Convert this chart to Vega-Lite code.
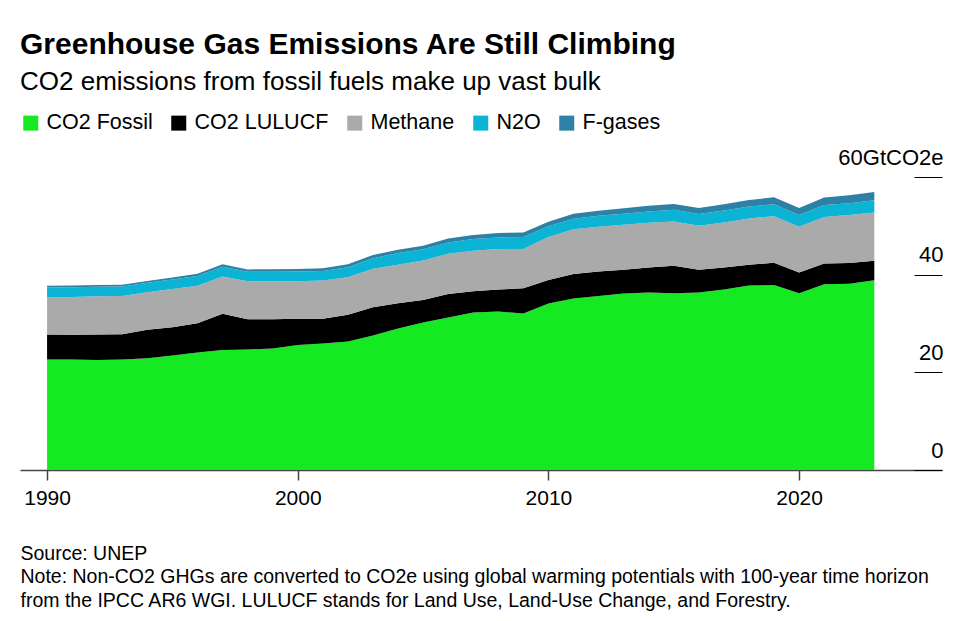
{
  "$schema": "https://vega.github.io/schema/vega-lite/v6.json",
  "autosize": "none",
  "width": 922,
  "height": 293,
  "padding": {"left": 20, "top": 177, "right": 17, "bottom": 151},
  "background": "white",
  "config": {
    "font": "Liberation Sans",
    "view": {"stroke": null}
  },
  "title": {
    "text": "Greenhouse Gas Emissions Are Still Climbing",
    "subtitle": "CO2 emissions from fossil fuels make up vast bulk",
    "anchor": "start",
    "frame": "group",
    "fontSize": 30,
    "fontWeight": "bold",
    "color": "#000000",
    "subtitleFontSize": 26,
    "subtitleColor": "#000000",
    "subtitlePadding": 9,
    "offset": 17
  },
  "data": {
    "values": [
      {"year": 1990, "gas": "CO2 Fossil", "value": 22.65}, {"year": 1990, "gas": "CO2 LULUCF", "value": 5.10}, {"year": 1990, "gas": "Methane", "value": 7.61}, {"year": 1990, "gas": "N2O", "value": 2.02}, {"year": 1990, "gas": "F-gases", "value": 0.35},
      {"year": 1991, "gas": "CO2 Fossil", "value": 22.65}, {"year": 1991, "gas": "CO2 LULUCF", "value": 5.04}, {"year": 1991, "gas": "Methane", "value": 7.76}, {"year": 1991, "gas": "N2O", "value": 1.98}, {"year": 1991, "gas": "F-gases", "value": 0.35},
      {"year": 1992, "gas": "CO2 Fossil", "value": 22.55}, {"year": 1992, "gas": "CO2 LULUCF", "value": 5.20}, {"year": 1992, "gas": "Methane", "value": 7.82}, {"year": 1992, "gas": "N2O", "value": 1.95}, {"year": 1992, "gas": "F-gases", "value": 0.35},
      {"year": 1993, "gas": "CO2 Fossil", "value": 22.65}, {"year": 1993, "gas": "CO2 LULUCF", "value": 5.16}, {"year": 1993, "gas": "Methane", "value": 7.84}, {"year": 1993, "gas": "N2O", "value": 1.93}, {"year": 1993, "gas": "F-gases", "value": 0.37},
      {"year": 1994, "gas": "CO2 Fossil", "value": 22.86}, {"year": 1994, "gas": "CO2 LULUCF", "value": 5.86}, {"year": 1994, "gas": "Methane", "value": 7.67}, {"year": 1994, "gas": "N2O", "value": 1.93}, {"year": 1994, "gas": "F-gases", "value": 0.39},
      {"year": 1995, "gas": "CO2 Fossil", "value": 23.47}, {"year": 1995, "gas": "CO2 LULUCF", "value": 5.78}, {"year": 1995, "gas": "Methane", "value": 7.84}, {"year": 1995, "gas": "N2O", "value": 1.93}, {"year": 1995, "gas": "F-gases", "value": 0.41},
      {"year": 1996, "gas": "CO2 Fossil", "value": 24.08}, {"year": 1996, "gas": "CO2 LULUCF", "value": 5.98}, {"year": 1996, "gas": "Methane", "value": 7.69}, {"year": 1996, "gas": "N2O", "value": 2.00}, {"year": 1996, "gas": "F-gases", "value": 0.45},
      {"year": 1997, "gas": "CO2 Fossil", "value": 24.59}, {"year": 1997, "gas": "CO2 LULUCF", "value": 7.39}, {"year": 1997, "gas": "Methane", "value": 7.67}, {"year": 1997, "gas": "N2O", "value": 1.98}, {"year": 1997, "gas": "F-gases", "value": 0.51},
      {"year": 1998, "gas": "CO2 Fossil", "value": 24.69}, {"year": 1998, "gas": "CO2 LULUCF", "value": 6.18}, {"year": 1998, "gas": "Methane", "value": 7.76}, {"year": 1998, "gas": "N2O", "value": 1.98}, {"year": 1998, "gas": "F-gases", "value": 0.47},
      {"year": 1999, "gas": "CO2 Fossil", "value": 24.90}, {"year": 1999, "gas": "CO2 LULUCF", "value": 5.98}, {"year": 1999, "gas": "Methane", "value": 7.76}, {"year": 1999, "gas": "N2O", "value": 1.98}, {"year": 1999, "gas": "F-gases", "value": 0.49},
      {"year": 2000, "gas": "CO2 Fossil", "value": 25.61}, {"year": 2000, "gas": "CO2 LULUCF", "value": 5.35}, {"year": 2000, "gas": "Methane", "value": 7.67}, {"year": 2000, "gas": "N2O", "value": 2.02}, {"year": 2000, "gas": "F-gases", "value": 0.51},
      {"year": 2001, "gas": "CO2 Fossil", "value": 25.92}, {"year": 2001, "gas": "CO2 LULUCF", "value": 5.04}, {"year": 2001, "gas": "Methane", "value": 7.82}, {"year": 2001, "gas": "N2O", "value": 1.96}, {"year": 2001, "gas": "F-gases", "value": 0.55},
      {"year": 2002, "gas": "CO2 Fossil", "value": 26.33}, {"year": 2002, "gas": "CO2 LULUCF", "value": 5.45}, {"year": 2002, "gas": "Methane", "value": 7.67}, {"year": 2002, "gas": "N2O", "value": 2.06}, {"year": 2002, "gas": "F-gases", "value": 0.60},
      {"year": 2003, "gas": "CO2 Fossil", "value": 27.55}, {"year": 2003, "gas": "CO2 LULUCF", "value": 5.78}, {"year": 2003, "gas": "Methane", "value": 7.90}, {"year": 2003, "gas": "N2O", "value": 2.14}, {"year": 2003, "gas": "F-gases", "value": 0.65},
      {"year": 2004, "gas": "CO2 Fossil", "value": 28.98}, {"year": 2004, "gas": "CO2 LULUCF", "value": 5.16}, {"year": 2004, "gas": "Methane", "value": 7.90}, {"year": 2004, "gas": "N2O", "value": 2.40}, {"year": 2004, "gas": "F-gases", "value": 0.68},
      {"year": 2005, "gas": "CO2 Fossil", "value": 30.20}, {"year": 2005, "gas": "CO2 LULUCF", "value": 4.63}, {"year": 2005, "gas": "Methane", "value": 8.06}, {"year": 2005, "gas": "N2O", "value": 2.32}, {"year": 2005, "gas": "F-gases", "value": 0.72},
      {"year": 2006, "gas": "CO2 Fossil", "value": 31.22}, {"year": 2006, "gas": "CO2 LULUCF", "value": 4.84}, {"year": 2006, "gas": "Methane", "value": 8.22}, {"year": 2006, "gas": "N2O", "value": 2.31}, {"year": 2006, "gas": "F-gases", "value": 0.80},
      {"year": 2007, "gas": "CO2 Fossil", "value": 32.24}, {"year": 2007, "gas": "CO2 LULUCF", "value": 4.35}, {"year": 2007, "gas": "Methane", "value": 8.31}, {"year": 2007, "gas": "N2O", "value": 2.38}, {"year": 2007, "gas": "F-gases", "value": 0.84},
      {"year": 2008, "gas": "CO2 Fossil", "value": 32.45}, {"year": 2008, "gas": "CO2 LULUCF", "value": 4.49}, {"year": 2008, "gas": "Methane", "value": 8.31}, {"year": 2008, "gas": "N2O", "value": 2.37}, {"year": 2008, "gas": "F-gases", "value": 0.90},
      {"year": 2009, "gas": "CO2 Fossil", "value": 32.04}, {"year": 2009, "gas": "CO2 LULUCF", "value": 5.16}, {"year": 2009, "gas": "Methane", "value": 8.04}, {"year": 2009, "gas": "N2O", "value": 2.48}, {"year": 2009, "gas": "F-gases", "value": 0.92},
      {"year": 2010, "gas": "CO2 Fossil", "value": 34.08}, {"year": 2010, "gas": "CO2 LULUCF", "value": 4.84}, {"year": 2010, "gas": "Methane", "value": 8.78}, {"year": 2010, "gas": "N2O", "value": 2.20}, {"year": 2010, "gas": "F-gases", "value": 0.96},
      {"year": 2011, "gas": "CO2 Fossil", "value": 35.10}, {"year": 2011, "gas": "CO2 LULUCF", "value": 5.04}, {"year": 2011, "gas": "Methane", "value": 9.18}, {"year": 2011, "gas": "N2O", "value": 2.15}, {"year": 2011, "gas": "F-gases", "value": 1.00},
      {"year": 2012, "gas": "CO2 Fossil", "value": 35.61}, {"year": 2012, "gas": "CO2 LULUCF", "value": 5.06}, {"year": 2012, "gas": "Methane", "value": 9.12}, {"year": 2012, "gas": "N2O", "value": 2.25}, {"year": 2012, "gas": "F-gases", "value": 1.05},
      {"year": 2013, "gas": "CO2 Fossil", "value": 36.12}, {"year": 2013, "gas": "CO2 LULUCF", "value": 4.90}, {"year": 2013, "gas": "Methane", "value": 9.18}, {"year": 2013, "gas": "N2O", "value": 2.30}, {"year": 2013, "gas": "F-gases", "value": 1.10},
      {"year": 2014, "gas": "CO2 Fossil", "value": 36.33}, {"year": 2014, "gas": "CO2 LULUCF", "value": 5.16}, {"year": 2014, "gas": "Methane", "value": 9.12}, {"year": 2014, "gas": "N2O", "value": 2.35}, {"year": 2014, "gas": "F-gases", "value": 1.15},
      {"year": 2015, "gas": "CO2 Fossil", "value": 36.22}, {"year": 2015, "gas": "CO2 LULUCF", "value": 5.61}, {"year": 2015, "gas": "Methane", "value": 9.04}, {"year": 2015, "gas": "N2O", "value": 2.40}, {"year": 2015, "gas": "F-gases", "value": 1.20},
      {"year": 2016, "gas": "CO2 Fossil", "value": 36.33}, {"year": 2016, "gas": "CO2 LULUCF", "value": 4.69}, {"year": 2016, "gas": "Methane", "value": 8.98}, {"year": 2016, "gas": "N2O", "value": 2.40}, {"year": 2016, "gas": "F-gases", "value": 1.25},
      {"year": 2017, "gas": "CO2 Fossil", "value": 36.94}, {"year": 2017, "gas": "CO2 LULUCF", "value": 4.55}, {"year": 2017, "gas": "Methane", "value": 9.18}, {"year": 2017, "gas": "N2O", "value": 2.45}, {"year": 2017, "gas": "F-gases", "value": 1.30},
      {"year": 2018, "gas": "CO2 Fossil", "value": 37.76}, {"year": 2018, "gas": "CO2 LULUCF", "value": 4.29}, {"year": 2018, "gas": "Methane", "value": 9.45}, {"year": 2018, "gas": "N2O", "value": 2.45}, {"year": 2018, "gas": "F-gases", "value": 1.35},
      {"year": 2019, "gas": "CO2 Fossil", "value": 37.86}, {"year": 2019, "gas": "CO2 LULUCF", "value": 4.59}, {"year": 2019, "gas": "Methane", "value": 9.53}, {"year": 2019, "gas": "N2O", "value": 2.45}, {"year": 2019, "gas": "F-gases", "value": 1.40},
      {"year": 2020, "gas": "CO2 Fossil", "value": 36.22}, {"year": 2020, "gas": "CO2 LULUCF", "value": 4.24}, {"year": 2020, "gas": "Methane", "value": 9.33}, {"year": 2020, "gas": "N2O", "value": 2.45}, {"year": 2020, "gas": "F-gases", "value": 1.40},
      {"year": 2021, "gas": "CO2 Fossil", "value": 38.06}, {"year": 2021, "gas": "CO2 LULUCF", "value": 4.24}, {"year": 2021, "gas": "Methane", "value": 9.53}, {"year": 2021, "gas": "N2O", "value": 2.45}, {"year": 2021, "gas": "F-gases", "value": 1.50},
      {"year": 2022, "gas": "CO2 Fossil", "value": 38.16}, {"year": 2022, "gas": "CO2 LULUCF", "value": 4.22}, {"year": 2022, "gas": "Methane", "value": 9.86}, {"year": 2022, "gas": "N2O", "value": 2.40}, {"year": 2022, "gas": "F-gases", "value": 1.60},
      {"year": 2023, "gas": "CO2 Fossil", "value": 38.88}, {"year": 2023, "gas": "CO2 LULUCF", "value": 3.98}, {"year": 2023, "gas": "Methane", "value": 9.86}, {"year": 2023, "gas": "N2O", "value": 2.50}, {"year": 2023, "gas": "F-gases", "value": 1.70}
    ]
  },
  "transform": [
    {"calculate": "indexof(['CO2 Fossil', 'CO2 LULUCF', 'Methane', 'N2O', 'F-gases'], datum.gas)", "as": "stackOrder"}
  ],
  "mark": {"type": "area", "opacity": 1},
  "encoding": {
    "x": {
      "field": "year",
      "type": "quantitative",
      "scale": {"domain": [1988.92, 2025.7], "nice": false, "zero": false},
      "axis": {
        "values": [1990, 2000, 2010, 2020],
        "format": "d",
        "grid": false,
        "domainColor": "#444444",
        "domainWidth": 1.5,
        "tickColor": "#444444",
        "tickWidth": 1.5,
        "tickSize": 10,
        "labelFontSize": 21,
        "labelColor": "#000000",
        "labelPadding": 7,
        "labelFlush": false,
        "title": [
          "Source: UNEP",
          "Note: Non-CO2 GHGs are converted to CO2e using global warming potentials with 100-year time horizon",
          "from the IPCC AR6 WGI. LULUCF stands for Land Use, Land-Use Change, and Forestry."
        ],
        "titleFontSize": 19.5,
        "titleFontWeight": "normal",
        "titleColor": "#000000",
        "titleAnchor": "start",
        "titleAlign": "left",
        "titleBaseline": "top",
        "titleX": 0,
        "titleY": 74,
        "titleLineHeight": 23.5
      }
    },
    "y": {
      "field": "value",
      "type": "quantitative",
      "stack": "zero",
      "scale": {"domain": [0, 60], "nice": false},
      "axis": {
        "orient": "right",
        "offset": -28,
        "values": [0, 20, 40, 60],
        "grid": false,
        "domain": false,
        "tickSize": 28,
        "tickColor": "#000000",
        "tickWidth": 1,
        "labelAlign": "right",
        "labelBaseline": "alphabetic",
        "labelOffset": -13,
        "labelPadding": 1,
        "labelFontSize": 22,
        "labelColor": "#000000",
        "labelExpr": "datum.value == 60 ? '60GtCO2e' : datum.label",
        "title": null
      }
    },
    "color": {
      "field": "gas",
      "type": "nominal",
      "sort": ["CO2 Fossil", "CO2 LULUCF", "Methane", "N2O", "F-gases"],
      "scale": {
        "domain": ["CO2 Fossil", "CO2 LULUCF", "Methane", "N2O", "F-gases"],
        "range": ["#14e922", "#000000", "#aaaaaa", "#0bb4d5", "#2d81a6"]
      },
      "legend": {
        "orient": "none",
        "legendX": 0,
        "legendY": -65,
        "direction": "horizontal",
        "title": null,
        "symbolType": "square",
        "symbolSize": 225,
        "symbolStrokeWidth": 0,
        "symbolOpacity": 1,
        "labelFontSize": 21.5,
        "labelColor": "#000000",
        "labelOffset": 5,
        "columnPadding": 15
      }
    },
    "order": {"field": "stackOrder", "type": "quantitative", "sort": "ascending"}
  }
}
